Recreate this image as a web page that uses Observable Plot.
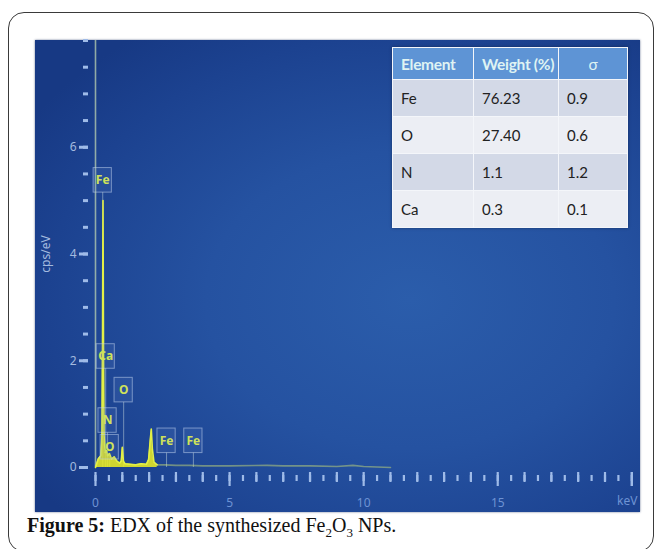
<!DOCTYPE html>
<html>
<head>
<meta charset="utf-8">
<script src="https://cdn.jsdelivr.net/npm/d3@7"></script>
<script src="https://cdn.jsdelivr.net/npm/@observablehq/plot@0.6"></script>
<style>
  html, body { margin: 0; padding: 0; background: #fff; }
  #page { position: relative; width: 662px; height: 549px; overflow: hidden; background: #fff; }
  #frame { position: absolute; left: 8px; top: 12px; width: 646px; height: 540px; border: 1.3px solid #3a3a3a; border-radius: 16px; box-sizing: border-box; }
  #chart { position: absolute; left: 35px; top: 40px; box-shadow: 0 0 2px rgba(10,30,80,0.6); }
  #chart svg { display: block; }
  #table { position: absolute; left: 392px; top: 47px; border-collapse: collapse; table-layout: fixed; width: 235px; font-family: Lato, "Open Sans", sans-serif; box-shadow: 0 0 3px rgba(0,0,0,0.35); }
  #table th, #table td { border: 1.5px solid #f4f6fa; padding: 0 0 0 8px; text-align: left; white-space: nowrap; overflow: hidden; }
  #table th { background: #5e94d5; color: #dff3f3; font-weight: bold; font-size: 15.5px; height: 31px; letter-spacing: -0.3px; }
  #table td { font-size: 15px; color: #222; height: 36px; }
  #table tr.a td { background: #d3d9e7; }
  #table tr.b td { background: #eceef4; }
  #caption { position: absolute; left: 27px; top: 514px; font-family: "Liberation Serif", "DejaVu Serif", serif; font-size: 20px; line-height: 22px; color: #111; white-space: nowrap; }
</style>
</head>
<body>
<div id="page">
  <div id="frame"></div>
  <div id="chart"></div>
  <div id="caption"><b>Figure 5:</b> EDX of the synthesized Fe<sub style="font-size:13px;line-height:0">2</sub>O<sub style="font-size:13px;line-height:0">3</sub> NPs.</div>
</div>
<script>
// ---- data ----
const tableHeader = ["Element", "Weight (%)", "σ"];
const tableElements = ["Fe", "O", "N", "Ca"];
const tableWeights = ["76.23", "27.40", "1.1", "0.3"];
const tableSigma = ["0.9", "0.6", "1.2", "0.1"];

// spectrum (keV, cps/eV)
const specX = [0, 0.05, 0.1, 0.15, 0.2, 0.24, 0.26, 0.28, 0.30, 0.32, 0.36, 0.40, 0.45, 0.52, 0.6, 0.7, 0.8, 0.9, 0.96, 1.0, 1.04, 1.1, 1.3, 1.5, 1.7, 1.9, 1.98, 2.04, 2.08, 2.12, 2.18, 2.3, 2.6, 3.0, 3.5, 4.0, 5.0, 6.4, 7.0, 8.0, 9.0, 9.6, 10.0, 11.0];
const specY = [0, 0.08, 0.16, 0.19, 0.22, 0.6, 2.2, 5.0, 2.0, 0.6, 0.28, 0.32, 0.22, 0.26, 0.16, 0.2, 0.12, 0.08, 0.12, 0.38, 0.12, 0.07, 0.06, 0.05, 0.07, 0.06, 0.15, 0.5, 0.72, 0.35, 0.1, 0.05, 0.05, 0.04, 0.04, 0.03, 0.03, 0.04, 0.03, 0.03, 0.02, 0.04, 0.02, 0];

// peak labels: element, position (keV), label height (cps/eV)
const labelEl = ["Fe", "Ca", "O", "N", "O", "Fe", "Fe"];
const labelX = [0.27, 0.38, 1.05, 0.45, 0.53, 2.65, 3.65];
const labelY = [5.38, 2.08, 1.45, 0.88, 0.38, 0.5, 0.5];

const yMajor = [0, 2, 4, 6];
const xMajor = [0, 5, 10, 15];

// ---- build ----
const spectrum = specX.map((x, i) => ({x, y: specY[i]}));
const specHead = spectrum.filter(d => d.x <= 2.3);
const specTail = spectrum.filter(d => d.x >= 2.3);
const labels = labelEl.map((el, i) => ({el, x: labelX[i], y: labelY[i]}));
const bw = 0.68, bh = 0.46;

const minorY = d3.range(0, 8.01, 0.5);
const halfX = d3.range(0, 20.01, 0.5);
const intX = d3.range(0, 20.01, 1).filter(v => v % 5 !== 0);
const fiveX = d3.range(0, 20.01, 5);
const tickColor = "#9fbbe8";

const plot = Plot.plot({
  width: 605,
  height: 472,
  marginLeft: 60,
  marginRight: 6,
  marginTop: 0,
  marginBottom: 45,
  x: {domain: [0, 20.1]},
  y: {domain: [0, 8]},
  style: {
    background: "radial-gradient(ellipse 75% 70% at 62% 55%, #2b5dab 0%, #2552a1 45%, #1c4290 80%, #173984 100%)",
    fontFamily: "'Noto Sans', 'Open Sans', sans-serif",
    overflow: "visible"
  },
  marks: [
    // y axis ticks
    Plot.axisY({ticks: minorY, tickSize: 5, dx: -7, label: null, stroke: tickColor, strokeWidth: 3, text: null}),
    Plot.axisY({ticks: yMajor, tickSize: 9, dx: -7, tickPadding: 3, label: "cps/eV", labelAnchor: "center", labelOffset: 54, labelArrow: "none", stroke: tickColor, strokeWidth: 3, fill: "#a3badf", fontSize: 12}),
    // x axis ticks
    Plot.axisX({ticks: halfX, tickSize: 6, dy: 8, stroke: tickColor, strokeWidth: 2.2, text: null, label: null}),
    Plot.axisX({ticks: intX, tickSize: 10, dy: 5, stroke: tickColor, strokeWidth: 2.2, text: null, label: null}),
    Plot.axisX({ticks: fiveX.concat([20]), tickSize: 14, dy: 5, stroke: tickColor, strokeWidth: 2.2, text: null, label: null}),
    Plot.axisX({ticks: xMajor, tickSize: 0, tickPadding: 31, fill: "#6e93d4", fontSize: 12, label: "keV", labelAnchor: "right", labelArrow: "none", labelOffset: 37}),
    // y axis line
    Plot.ruleX([0], {stroke: "#b9d0b0", strokeOpacity: 0.75, strokeWidth: 1.6}),
    // pointer lines
    Plot.ruleX(labels, {x: "x", y1: 0, y2: d => d.y - bh / 2, stroke: "#c8dce0", strokeOpacity: 0.5, strokeWidth: 1}),
    // spectrum
    Plot.areaY(specHead, {x: "x", y: "y", fill: "#eef020", fillOpacity: 0.85}),
    Plot.lineY(specHead, {x: "x", y: "y", stroke: "#e2f046", strokeWidth: 1.6}),
    Plot.lineY(specTail, {x: "x", y: "y", stroke: "#d8e870", strokeOpacity: 0.45, strokeWidth: 1.6}),
    // label boxes
    Plot.rect(labels, {x1: d => d.x - bw / 2, x2: d => d.x + bw / 2, y1: d => d.y - bh / 2, y2: d => d.y + bh / 2, fill: "#6a90d0", fillOpacity: 0.15, stroke: "#c0d2ec", strokeOpacity: 0.55, strokeWidth: 1}),
    Plot.text(labels, {x: "x", y: "y", text: "el", fill: "#cfe25a", fontSize: 12, fontWeight: "bold"})
  ]
});
document.getElementById("chart").appendChild(plot);

// table
const tbl = document.createElement("table");
tbl.id = "table";
const colW = [81, 85, 69];
let html = "<colgroup>" + colW.map(w => `<col style="width:${w}px">`).join("") + "</colgroup>";
html += "<tr>" + tableHeader.map((h, i) => `<th style="${i === 2 ? 'text-align:center;padding:0;font-weight:normal' : ''}">${h}</th>`).join("") + "</tr>";
tableElements.forEach((el, i) => {
  html += `<tr class="${i % 2 === 0 ? 'a' : 'b'}"><td>${el}</td><td>${tableWeights[i]}</td><td>${tableSigma[i]}</td></tr>`;
});
tbl.innerHTML = html;
document.getElementById("page").appendChild(tbl);
</script>
</body>
</html>
